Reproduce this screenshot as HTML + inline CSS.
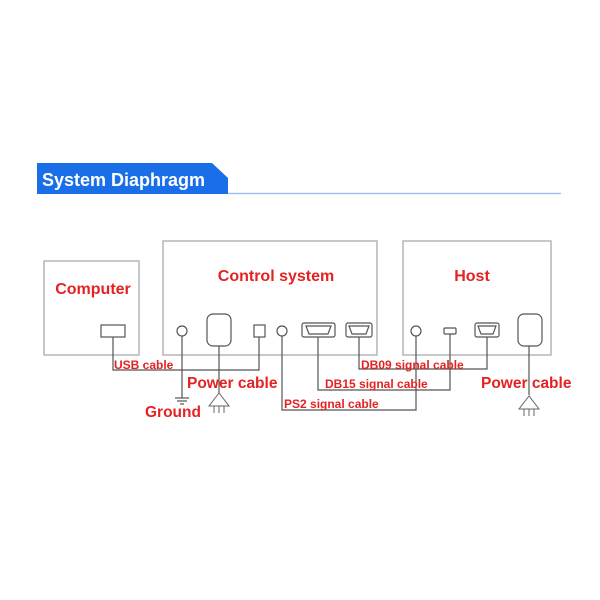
<!DOCTYPE html>
<html><head><meta charset="utf-8"><style>
html,body{margin:0;padding:0;background:#fff;width:600px;height:600px;overflow:hidden}
svg text{font-family:"Liberation Sans",sans-serif;font-weight:bold}
</style></head><body>
<svg width="600" height="600" viewBox="0 0 600 600" xmlns="http://www.w3.org/2000/svg">
<defs>
<g id="plug" fill="none" stroke="#666" stroke-width="1">
<path d="M0,0 L-10,13 L10,13 Z"/>
<line x1="-5" y1="13" x2="-5" y2="20"/><line x1="0" y1="13" x2="0" y2="20"/><line x1="5" y1="13" x2="5" y2="20"/>
</g>
</defs>
<path d="M37,163 L212,163 L228,178 L228,194 L37,194 Z" fill="#1a6fe8"/>
<line x1="228" y1="193.5" x2="561" y2="193.5" stroke="#9fc3f0" stroke-width="1.5"/>
<text x="42" y="186" fill="#fff" font-size="18">System Diaphragm</text>
<g fill="none" stroke="#aaa" stroke-width="1.3">
<rect x="44" y="261" width="95" height="94"/>
<rect x="163" y="241" width="214" height="114"/>
<rect x="403" y="241" width="148" height="114"/>
</g>
<g fill="#e52222" font-size="16">
<text x="93" y="294" text-anchor="middle">Computer</text>
<text x="276" y="281" text-anchor="middle">Control system</text>
<text x="472" y="281" text-anchor="middle">Host</text>
</g>
<g fill="none" stroke="#555" stroke-width="1.2">
<polyline points="113,337 113,370 259,370 259,337"/>
<line x1="182" y1="336" x2="182" y2="398"/>
<line x1="219" y1="346" x2="219" y2="393"/>
<polyline points="282,336 282,410 416,410 416,336"/>
<polyline points="318,337 318,390 450,390 450,334"/>
<polyline points="359,337 359,369 487,369 487,337"/>
<line x1="529" y1="346" x2="529" y2="395"/>
</g>
<g fill="#fff" stroke="#555" stroke-width="1.2">
<rect x="101" y="325" width="24" height="12"/>
<circle cx="182" cy="331" r="5"/>
<rect x="207" y="314" width="24" height="32" rx="6"/>
<rect x="254" y="325" width="11" height="12"/>
<circle cx="282" cy="331" r="5"/>
<rect x="302" y="323" width="33" height="14" rx="2"/>
<path d="M306,326 L331,326 L328,334 L309,334 Z"/>
<rect x="346" y="323" width="26" height="14" rx="2"/>
<path d="M349,326 L369,326 L366,334 L352,334 Z"/>
<circle cx="416" cy="331" r="5"/>
<rect x="444" y="328" width="12" height="6" rx="1"/>
<rect x="475" y="323" width="24" height="14" rx="2"/>
<path d="M478,326 L496,326 L493,334 L481,334 Z"/>
<rect x="518" y="314" width="24" height="32" rx="6"/>
</g>
<g stroke="#555" stroke-width="1.2">
<line x1="175" y1="398" x2="189" y2="398"/>
<line x1="177" y1="401" x2="187" y2="401"/>
<line x1="180" y1="404" x2="184" y2="404"/>
</g>
<use href="#plug" x="219" y="393"/>
<use href="#plug" x="529" y="396"/>
<g fill="#e52222">
<text x="114" y="369" font-size="12">USB  cable</text>
<text x="187" y="388" font-size="15.5">Power cable</text>
<text x="145" y="417" font-size="15.5">Ground</text>
<text x="284" y="408" font-size="12">PS2 signal cable</text>
<text x="325" y="388" font-size="12">DB15 signal cable</text>
<text x="361" y="369" font-size="12">DB09 signal cable</text>
<text x="481" y="388" font-size="15.5">Power cable</text>
</g>
</svg>
</body></html>
